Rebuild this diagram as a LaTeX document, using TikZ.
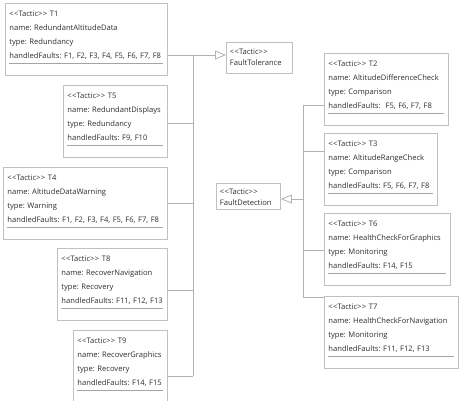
\documentclass[tikz,border=0pt]{standalone}
\usepackage{fontspec}
\setmainfont{Open Sans}
\usetikzlibrary{arrows.meta}
\definecolor{boxline}{RGB}{192,192,192}
\definecolor{wire}{RGB}{178,178,178}
\definecolor{sepline}{RGB}{165,165,165}
\definecolor{ink}{RGB}{45,45,45}
\newcommand{\stereo}{<\kern.4pt<Tactic>\kern.4pt>}
\newcommand{\tactic}[4]{\rule{0pt}{13pt}\stereo{} #1\\ name: #2\\ type: #3\\ handledFaults: #4\\[-9pt]\textcolor{sepline}{\rule{\linewidth}{0.6pt}}\rule[-12pt]{0pt}{12pt}}

\begin{document}
\begin{tikzpicture}[x=1pt,y=-1pt,
	tactic/.style={draw=boxline, line width=0.9pt, anchor=north west, inner xsep=4pt, inner ysep=0pt, align=left, text=ink, font=\fontsize{7.6}{14}\selectfont\frenchspacing},
	group/.style={draw=boxline, line width=0.9pt, anchor=north west, inner xsep=3.5pt, inner ysep=0pt, align=left, text=ink, font=\fontsize{7.6}{11}\selectfont\frenchspacing},
	wire/.style={draw=wire, line width=0.8pt},
	gen/.style={wire, -{Triangle[open,length=11pt,width=9pt]}}]

	\clip (0,0) rectangle (460,400);

	\node[tactic, text width=154pt] (t1) at (5,3) {\tactic{T1}{RedundantAltitudeData}{Redundancy}{F1, F2, F3, F4, F5, F6, F7, F8}};
	\node[tactic, text width=96pt] (t5) at (63,85) {\tactic{T5}{RedundantDisplays}{Redundancy}{F9, F10}};
	\node[tactic, text width=156pt] (t4) at (3,167) {\tactic{T4}{AltitudeDataWarning}{Warning}{F1, F2, F3, F4, F5, F6, F7, F8}};
	\node[tactic, text width=102pt] (t8) at (57,248) {\tactic{T8}{RecoverNavigation}{Recovery}{F11, F12, F13}};
	\node[tactic, text width=86pt] (t9) at (73,330) {\tactic{T9}{RecoverGraphics}{Recovery}{F14, F15}};

	\node[tactic, text width=116pt] (t2) at (324,53) {\tactic{T2}{AltitudeDifferenceCheck}{Comparison}{\ F5, F6, F7, F8}};
	\node[tactic, text width=105pt] (t3) at (324,133) {\tactic{T3}{AltitudeRangeCheck}{Comparison}{F5, F6, F7, F8}};
	\node[tactic, text width=118pt] (t6) at (324,213) {\tactic{T6}{HealthCheckForGraphics}{Monitoring}{F14, F15}};
	\node[tactic, text width=126pt] (t7) at (324,296) {\tactic{T7}{HealthCheckForNavigation}{Monitoring}{F11, F12, F13}};

	\node[group, text width=59pt] (ft) at (226,42) {\rule{0pt}{12pt}\stereo\\FaultTolerance\rule[-8pt]{0pt}{8pt}};
	\node[group, text width=57pt] (fd) at (216,183) {\rule{0pt}{11.5pt}\stereo\\FaultDetection\rule[-3pt]{0pt}{3pt}};

	\coordinate (b1) at (193,55);
	\coordinate (b5) at (193,123);
	\coordinate (b4) at (193,203);
	\coordinate (b8) at (193,290);
	\coordinate (b9) at (193,376);

	\coordinate (d2) at (303,105);
	\coordinate (d3) at (303,151);
	\coordinate (dfd) at (303,199);
	\coordinate (d6) at (303,250);
	\coordinate (d7) at (303,297);

	\draw[gen] (t1.east |- b1) -- (ft.west |- b1);
	\draw[wire] (b1) -- (b9);
	\foreach \t/\b in {t5/b5, t4/b4, t8/b8, t9/b9}
		\draw[wire] (\t.east |- \b) -- (\b);

	\draw[gen] (dfd) -- (fd.east |- dfd);
	\draw[wire] (d2) -- (d7);
	\foreach \t/\b in {t2/d2, t3/d3, t6/d6, t7/d7}
		\draw[wire] (\t.west |- \b) -- (\b);

\end{tikzpicture}
\end{document}
